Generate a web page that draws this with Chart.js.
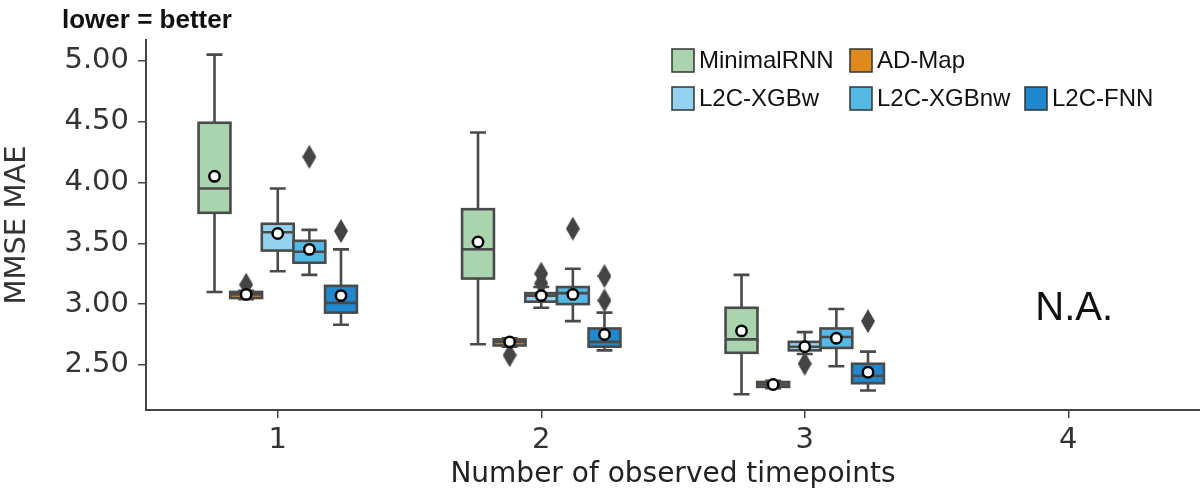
<!DOCTYPE html>
<html>
<head>
<meta charset="utf-8">
<script src="https://cdn.jsdelivr.net/npm/chart.js@4"></script>
<style>
  html, body { margin: 0; padding: 0; background: #fff; }
  #wrap { width: 1200px; height: 492px; }
</style>
</head>
<body>
<div id="wrap"><canvas id="chart" width="1200" height="492"></canvas></div>
<script>
// groups on the x axis and the methods drawn inside each group
const groups = [1, 2, 3];
const xTicks = [1, 2, 3, 4];
const yTicks = [2.5, 3.0, 3.5, 4.0, 4.5, 5.0];
const methods = ['MinimalRNN', 'AD-Map', 'L2C-XGBw', 'L2C-XGBnw', 'L2C-FNN'];
const colors = ['#aad4ae', '#e08a1e', '#93d2ef', '#55b9e6', '#1f88cf'];

// box statistics per method, one entry per group
const whiskerLow = [[3.10, 2.67, 2.26], [3.04, 2.65, 2.31], [3.27, 2.97, 2.59], [3.24, 2.86, 2.49], [2.83, 2.62, 2.29]];
const q1 =         [[3.75, 3.21, 2.60], [3.05, 2.66, 2.32], [3.44, 3.02, 2.62], [3.34, 3.00, 2.64], [2.93, 2.65, 2.35]];
const median =     [[3.95, 3.45, 2.71], [3.08, 2.69, 2.34], [3.59, 3.07, 2.65], [3.43, 3.09, 2.73], [3.01, 2.69, 2.41]];
const q3 =         [[4.49, 3.78, 2.97], [3.10, 2.71, 2.36], [3.66, 3.09, 2.69], [3.52, 3.14, 2.80], [3.15, 2.80, 2.51]];
const whiskerHigh = [[5.05, 4.41, 3.24], [3.11, 2.72, 2.37], [3.95, 3.14, 2.77], [3.61, 3.29, 2.96], [3.45, 2.93, 2.61]];
const means =      [[4.05, 3.51, 2.78], [3.08, 2.69, 2.34], [3.58, 3.07, 2.65], [3.45, 3.08, 2.72], [3.07, 2.75, 2.44]];
const outliers = [
  [[], [], []],
  [[3.16], [2.58], []],
  [[], [3.25, 3.17], [2.51]],
  [[4.21], [3.62], []],
  [[3.60], [3.23, 3.03], [2.86]]
];

const offsets = [-0.24, -0.12, 0, 0.12, 0.24];
const boxWidth = 0.121;
const lineColor = '#4a4a4a';

// tall diamond used for fliers
function makeDiamond() {
  const c = document.createElement('canvas');
  c.width = 14; c.height = 24;
  const g = c.getContext('2d');
  g.fillStyle = '#444';
  g.beginPath();
  g.moveTo(7, 0); g.lineTo(14, 12); g.lineTo(7, 24); g.lineTo(0, 12);
  g.closePath();
  g.fill();
  return c;
}

const meanPoints = [];
const flierPoints = [];
methods.forEach((name, m) => {
  groups.forEach((grp, gi) => {
    meanPoints.push({ x: grp + offsets[m], y: means[m][gi] });
    outliers[m][gi].forEach(v => flierPoints.push({ x: grp + offsets[m], y: v }));
  });
});

const boxPlugin = {
  id: 'boxes',
  // boxes go on top of the fliers but under the mean markers
  afterDatasetDraw(chart, args) {
    if (args.index !== 0) return;
    const ctx = chart.ctx;
    const xs = chart.scales.x, ys = chart.scales.y;
    const half = (xs.getPixelForValue(1 + boxWidth / 2) - xs.getPixelForValue(1));
    ctx.save();
    ctx.strokeStyle = lineColor;
    ctx.lineWidth = 2.6;
    methods.forEach((name, m) => {
      groups.forEach((grp, gi) => {
        const cx = xs.getPixelForValue(grp + offsets[m]);
        const yLo = ys.getPixelForValue(whiskerLow[m][gi]);
        const yQ1 = ys.getPixelForValue(q1[m][gi]);
        const yMed = ys.getPixelForValue(median[m][gi]);
        const yQ3 = ys.getPixelForValue(q3[m][gi]);
        const yHi = ys.getPixelForValue(whiskerHigh[m][gi]);
        // whiskers and caps
        ctx.beginPath();
        ctx.moveTo(cx, yQ3); ctx.lineTo(cx, yHi);
        ctx.moveTo(cx - half / 2, yHi); ctx.lineTo(cx + half / 2, yHi);
        ctx.moveTo(cx, yQ1); ctx.lineTo(cx, yLo);
        ctx.moveTo(cx - half / 2, yLo); ctx.lineTo(cx + half / 2, yLo);
        ctx.stroke();
        // box
        ctx.fillStyle = colors[m];
        ctx.fillRect(cx - half, yQ3, half * 2, yQ1 - yQ3);
        ctx.strokeRect(cx - half, yQ3, half * 2, yQ1 - yQ3);
        // median
        ctx.beginPath();
        ctx.moveTo(cx - half, yMed); ctx.lineTo(cx + half, yMed);
        ctx.stroke();
      });
    });
    ctx.restore();
  },
  afterDraw(chart) {
    const ctx = chart.ctx;
    const xs = chart.scales.x, ys = chart.scales.y;
    ctx.save();
    // note in the top left corner
    ctx.fillStyle = '#111';
    ctx.font = 'bold 26px "Liberation Sans", Arial, sans-serif';
    ctx.textBaseline = 'alphabetic';
    ctx.textAlign = 'left';
    ctx.fillText('lower = better', 62, 28);

    // no data for four timepoints
    ctx.font = '40px "Liberation Sans", Arial, sans-serif';
    ctx.textAlign = 'center';
    ctx.textBaseline = 'middle';
    ctx.fillText('N.A.', xs.getPixelForValue(4) + 6, ys.getPixelForValue(2.96));

    // legend in two rows
    const rows = [
      [{ m: 0, x: 672 }, { m: 1, x: 850 }],
      [{ m: 2, x: 672 }, { m: 3, x: 850 }, { m: 4, x: 1025 }]
    ];
    const rowY = [60, 98];
    ctx.font = '24px "Liberation Sans", Arial, sans-serif';
    ctx.textAlign = 'left';
    rows.forEach((row, r) => {
      row.forEach(item => {
        ctx.fillStyle = colors[item.m];
        ctx.fillRect(item.x, rowY[r] - 11, 22, 23);
        ctx.strokeStyle = '#333';
        ctx.lineWidth = 1.5;
        ctx.strokeRect(item.x, rowY[r] - 11, 22, 23);
        ctx.fillStyle = '#111';
        ctx.fillText(methods[item.m], item.x + 27, rowY[r] + 1);
      });
    });
    ctx.restore();
  }
};

const diamond = makeDiamond();

new Chart(document.getElementById('chart'), {
  type: 'scatter',
  data: {
    datasets: [
      {
        label: 'outliers',
        data: flierPoints,
        pointStyle: diamond,
        order: 2
      },
      {
        label: 'mean',
        data: meanPoints,
        pointStyle: 'circle',
        pointRadius: 5.2,
        backgroundColor: '#fff',
        borderColor: '#000',
        borderWidth: 2.5,
        order: 1
      }
    ]
  },
  options: {
    responsive: false,
    animation: false,
    devicePixelRatio: 1,
    layout: { autoPadding: false, padding: { top: 40, right: 0, left: 0, bottom: 0 } },
    plugins: {
      legend: { display: false },
      tooltip: { enabled: false }
    },
    scales: {
      x: {
        type: 'linear',
        min: 0.5,
        max: 4.5,
        afterBuildTicks: s => { s.ticks = xTicks.map(v => ({ value: v })); },
        afterFit: s => { s.height = 82; s.paddingLeft = 0; s.paddingRight = 0; },
        grid: { drawOnChartArea: false, tickLength: 8, color: '#444', lineWidth: 1.5 },
        border: { color: '#444', width: 2 },
        ticks: { color: '#333', font: { family: 'DejaVu Sans', size: 29 }, padding: 5 },
        title: {
          display: true,
          text: 'Number of observed timepoints',
          color: '#222',
          font: { family: 'DejaVu Sans', size: 28 },
          padding: { top: 0, bottom: 0 }
        }
      },
      y: {
        min: 2.13,
        max: 5.17,
        afterBuildTicks: s => { s.ticks = yTicks.map(v => ({ value: v })); },
        afterFit: s => { s.width = 146; s.paddingTop = 0; s.paddingBottom = 0; },
        grid: { drawOnChartArea: false, tickLength: 8, color: '#444', lineWidth: 1.5 },
        border: { color: '#444', width: 2 },
        ticks: {
          color: '#333',
          font: { family: 'DejaVu Sans', size: 29 },
          padding: 9,
          callback: v => v.toFixed(2)
        },
        title: {
          display: true,
          text: 'MMSE MAE',
          color: '#333',
          font: { family: 'DejaVu Sans', size: 29 },
          padding: { top: 0, bottom: 0 }
        }
      }
    }
  },
  plugins: [boxPlugin]
});
</script>
</body>
</html>
